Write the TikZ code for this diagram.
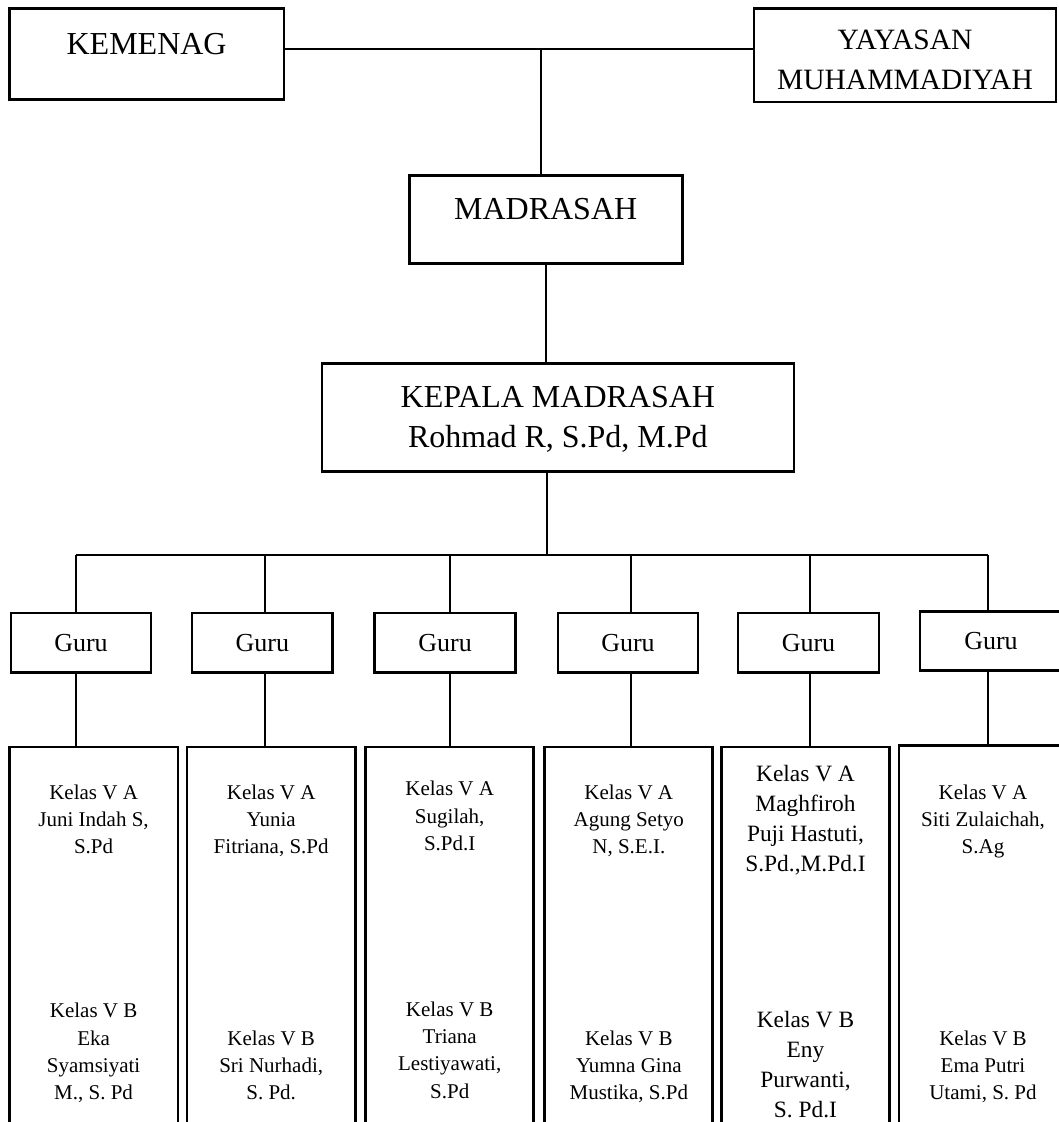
\documentclass[tikz,border=0pt]{standalone}
\usepackage{fontspec}
\setmainfont{Liberation Serif}
\usepackage{tikz}

\begin{document}
\begin{tikzpicture}[x=1pt, y=-1pt,
    box/.style={draw, line width=2.8pt, inner sep=0pt},
    line/.style={line width=2.4pt},
    bigtext/.style={inner sep=0pt, align=center, font=\fontsize{32}{40}\selectfont},
    gurutext/.style={font=\fontsize{26}{30}\selectfont},
    kelastext/.style={inner sep=0pt, anchor=north, align=center, font=\fontsize{21}{27.3}\selectfont},
    kelasbig/.style={kelastext, font=\fontsize{23.4}{30}\selectfont}]
    \useasboundingbox (0,0) rectangle (1059,1122);
    \clip (0,0) rectangle (1059,1122);

    % Top boxes
    \node[box, minimum width=274.7pt, minimum height=91.3pt] (kemenag) at (146.6,54.2) {};
    \node[bigtext] (kemenagtxt) at (146.6,44) {KEMENAG};
    \node[box, minimum width=302pt, minimum height=93.4pt] (yayasan) at (905,55.3) {};
    \node[bigtext, font=\fontsize{29.5}{40}\selectfont] (yayasantxt) at (905,59.8) {YAYASAN\\MUHAMMADIYAH};
    % Madrasah
    \node[box, minimum width=273pt, minimum height=87.6pt] (madrasah) at (545.7,219.5) {};
    \node[bigtext] (madrasahtxt) at (545.7,209) {MADRASAH};
    % Kepala madrasah
    \node[box, minimum width=472pt, minimum height=108.4pt] (kepala) at (557.9,417.5) {};
    \node[bigtext] (kepalatxt) at (557.9,419) {KEPALA MADRASAH\\Rohmad R, S.Pd, M.Pd};

    % Top connectors
    \coordinate (top) at (541,48.9);
    \draw[line] (kemenag.east |- top) -- (yayasan.west |- top);
    \draw[line] (top) -- (top |- madrasah.north);
    \draw[line] (madrasah.south) -- (madrasah.south |- kepala.north);
    \coordinate (bus) at (547,555);
    \draw[line] (bus |- kepala.south) -- (bus);
    \coordinate (busL) at (76,555);
    \coordinate (busR) at (988,555);
    \draw[line] (busL) -- (busR);

    % Guru boxes
    \node[box, gurutext, minimum width=140pt, minimum height=59.6pt] (guru1) at (81,642.8) {Guru};
    \node[box, gurutext, minimum width=140.6pt, minimum height=59.6pt] (guru2) at (262.3,642.8) {Guru};
    \node[box, gurutext, minimum width=140.8pt, minimum height=59.6pt] (guru3) at (445.1,642.8) {Guru};
    \node[box, gurutext, minimum width=140pt, minimum height=59.6pt] (guru4) at (628,642.8) {Guru};
    \node[box, gurutext, minimum width=141pt, minimum height=59.6pt] (guru5) at (808.5,642.8) {Guru};
    \node[box, gurutext, minimum width=142pt, minimum height=59.2pt] (guru6) at (991,641.2) {Guru};

    % Kelas boxes
    \node[box, anchor=north, minimum width=168.7pt, minimum height=420pt] (kelas1) at (93.6,745.5) {};
    \node[box, anchor=north, minimum width=168.4pt, minimum height=420pt] (kelas2) at (271.2,745.5) {};
    \node[box, anchor=north, minimum width=168pt, minimum height=420pt] (kelas3) at (449.7,745.5) {};
    \node[box, anchor=north, minimum width=168pt, minimum height=420pt] (kelas4) at (628.8,745.5) {};
    \node[box, anchor=north, minimum width=168pt, minimum height=420pt] (kelas5) at (805.5,745.5) {};
    \node[box, anchor=north, minimum width=168pt, minimum height=420pt] (kelas6) at (983,743.8) {};

    % Drops from bus to guru and from guru to kelas
    \foreach \i/\x in {1/76, 2/265, 3/450, 4/631, 5/810, 6/988} {
        \draw[line] (\x,555 |- busL) -- (\x,0 |- guru\i.north);
        \draw[line] (\x,0 |- guru\i.south) -- (\x,0 |- kelas\i.north);
    }

    % Kelas texts
    \node[kelastext] (kelas1a) at (kelas1.north |- 0,784.5) {Kelas V A\\Juni Indah S,\\S.Pd};
    \node[kelastext] (kelas1b) at (kelas1.north |- 0,1003) {Kelas V B\\Eka\\Syamsiyati\\M., S. Pd};
    \node[kelastext] (kelas2a) at (kelas2.north |- 0,784.5) {Kelas V A\\Yunia\\Fitriana, S.Pd};
    \node[kelastext] (kelas2b) at (kelas2.north |- 0,1030.5) {Kelas V B\\Sri Nurhadi,\\S. Pd.};
    \node[kelastext] (kelas3a) at (kelas3.north |- 0,781) {Kelas V A\\Sugilah,\\S.Pd.I};
    \node[kelastext] (kelas3b) at (kelas3.north |- 0,1001.5) {Kelas V B\\Triana\\Lestiyawati,\\S.Pd};
    \node[kelastext] (kelas4a) at (kelas4.north |- 0,784.5) {Kelas V A\\Agung Setyo\\N, S.E.I.};
    \node[kelastext] (kelas4b) at (kelas4.north |- 0,1030.5) {Kelas V B\\Yumna Gina\\Mustika, S.Pd};
    \node[kelasbig] (kelas5a) at (kelas5.north |- 0,765) {Kelas V A\\Maghfiroh\\Puji Hastuti,\\S.Pd.,M.Pd.I};
    \node[kelasbig] (kelas5b) at (kelas5.north |- 0,1011) {Kelas V B\\Eny\\Purwanti,\\S. Pd.I};
    \node[kelastext] (kelas6a) at (kelas6.north |- 0,784.5) {Kelas V A\\Siti Zulaichah,\\S.Ag};
    \node[kelastext] (kelas6b) at (kelas6.north |- 0,1030.5) {Kelas V B\\Ema Putri\\Utami, S. Pd};
\end{tikzpicture}
\end{document}
